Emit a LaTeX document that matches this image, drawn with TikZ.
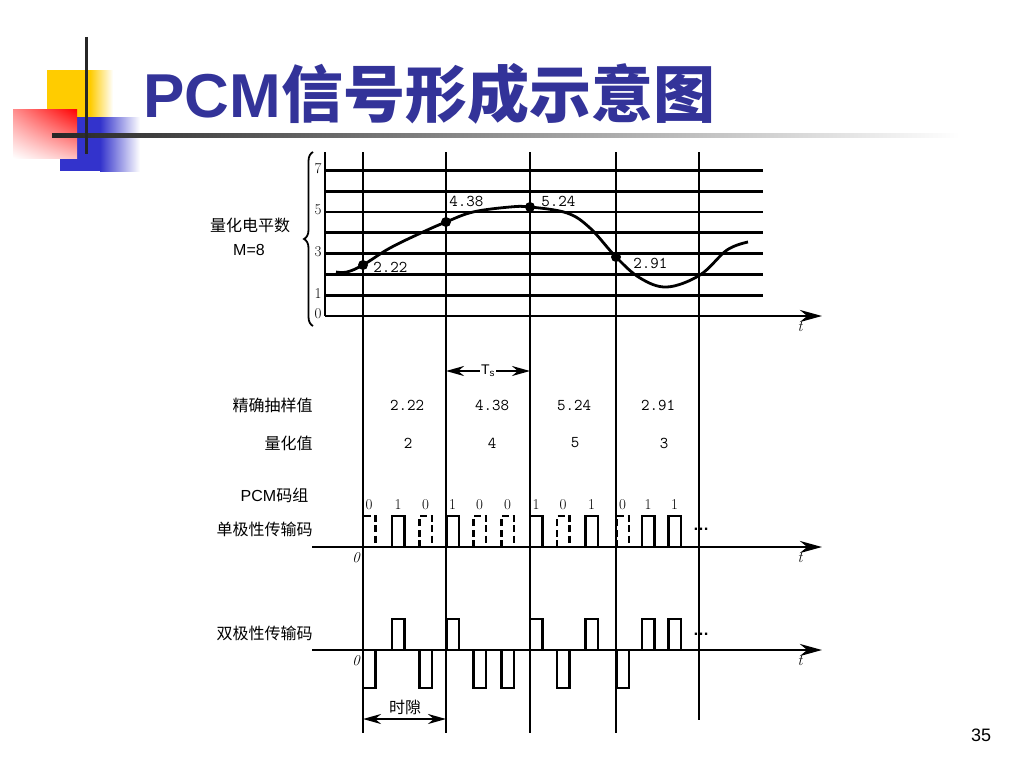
\documentclass[tikz,border=0pt]{standalone}
\usepackage{fontspec}
\usepackage{tikz}
\usetikzlibrary{arrows.meta,decorations.pathreplacing,shadings}
\newfontfamily\cjk{Noto Sans CJK SC}
\newfontfamily\arial{Liberation Sans}
\definecolor{titleblue}{HTML}{333399}
\definecolor{decoyellow}{HTML}{FFCC00}
\definecolor{decoblue}{HTML}{3333CC}

\begin{document}
\begin{tikzpicture}[x=1pt, y=-1pt, line width=2.8pt, line join=miter,
    cn/.style={font=\cjk\fontsize{16}{18}\selectfont, inner sep=1pt},
    num/.style={font=\ttfamily\fontsize{16.5}{18}\selectfont, inner sep=0pt},
    bitlbl/.style={font=\fontsize{15}{17}\selectfont, inner sep=0pt},
    lvl/.style={font=\fontsize{15}{17}\selectfont, inner sep=0pt},
    tlbl/.style={font=\itshape\fontsize{15}{17}\selectfont, inner sep=0pt},
    axisarrow/.style={-{Stealth[length=22pt,width=12pt]}},
    dblarrow/.style={line width=2.2pt, {Stealth[length=18pt,width=10pt]}-{Stealth[length=18pt,width=10pt]}},
    zerobit/.style={line width=2.4pt, dash pattern=on 7pt off 3.5pt}]
  \useasboundingbox (0,0) rectangle (1024,768);

  % corner decoration
  \fill[decoyellow] (47,70) rectangle (90,117);
  \shade[left color=decoyellow, right color=white] (90,70) rectangle (113,117);
  \fill[decoblue] (60,117) rectangle (100,171);
  \shade[left color=decoblue, right color=white] (100,117) rectangle (140,171);
  \shade[upper right=red, upper left=red!45, lower right=red!25, lower left=white] (13,109) rectangle (77,158);
  \shade[left color=black!85, right color=white] (52,133.5) rectangle (960,137);
  \draw[line width=3pt, black!85] (86,37) -- (86,154);

  \node[anchor=base west, inner sep=0pt, text=titleblue] (title) at (142,117)
    {\fontsize{62}{70}\selectfont\arial\bfseries PCM\cjk\bfseries 信号形成示意图};

  % quantisation levels
  \foreach \k in {1,...,7}
    \draw (325,{316-20.8*\k}) -- (763,{316-20.8*\k});
  \draw[axisarrow] (325,316) -- (822,316);
  \draw (325,152) -- (325,316);
  \foreach \v in {0,1,3,5,7}
    \node[lvl] (lv\v) at (318,{314-20.8*\v}) {\v};
  \node[tlbl] (t1) at (800,327) {t};
  \draw[line width=1.8pt, decorate, decoration={brace, amplitude=9pt}] (313,326) -- (313,152);
  \node[cn] (mlbl) at (250,225) {量化电平数};
  \node[font=\arial\fontsize{16}{18}\selectfont] (mval) at (249,250) {M=8};

  % signal and samples
  \draw plot[smooth, tension=0.6] coordinates {(336,272) (347,272) (363,265) (390,248) (423,232)
    (446,222) (473,212) (510,207) (530,207) (567,213) (590,228) (616,257) (640,278) (667,287)
    (700,275) (727,250) (748,242)};
  \foreach \x/\y in {363/265, 446/222, 530/207, 616/257}
    \fill (\x,\y) circle[radius=5];
  \node[num, anchor=west] (s1) at (372,267) {2.22};
  \node[num, anchor=west] (s2) at (448,201) {4.38};
  \node[num, anchor=west] (s3) at (540,201) {5.24};
  \node[num, anchor=west] (s4) at (632,263) {2.91};

  % sampling instants
  \foreach \x in {363,446,530,616}
    \draw (\x,152) -- (\x,733);
  \draw (699,152) -- (699,720);
  \draw[dblarrow] (446,371) -- (530,371)
    node[midway, fill=white, inner sep=1pt, font=\arial\fontsize{14}{16}\selectfont] (ts) {T\textsubscript{s}};

  % sample and quantised values
  \node[cn, anchor=east] (exact) at (315,405) {精确抽样值};
  \node[cn, anchor=east] (quant) at (315,443) {量化值};
  \foreach \x/\a [count=\i] in {407/2.22, 492/4.38, 574/5.24, 658/2.91}
    \node[num] (ex\i) at (\x,405) {\a};
  \foreach \x/\q [count=\i] in {408/2, 492/4, 575/5, 664/3}
    \node[num] (qv\i) at (\x,443) {\q};

  % codes
  \node[font=\cjk\fontsize{16}{18}\selectfont, anchor=east] (pcm) at (313,495) {{\arial PCM}码组};
  \node[cn, anchor=east] (uni) at (315,529) {单极性传输码};
  \node[cn, anchor=east] (bip) at (315,633) {双极性传输码};
  \draw[axisarrow] (312,547) -- (822,547);
  \draw[axisarrow] (312,650) -- (822,650);
  \node[tlbl] (o1) at (356,558) {0};
  \node[tlbl] (t2) at (800,558) {t};
  \node[tlbl] (o2) at (356,661) {0};
  \node[tlbl] (t3) at (800,661) {t};
  \node[font=\arial\bfseries\fontsize{16}{18}\selectfont, anchor=base] (dots1) at (701,530) {…};
  \node[font=\arial\bfseries\fontsize{16}{18}\selectfont, anchor=base] (dots2) at (701,635) {…};
  \foreach \x/\v [count=\i] in {363/0, 392/1, 419.5/0, 446.5/1, 473.5/0, 501.5/0,
      530/1, 557/0, 585.5/1, 616.5/0, 642/1, 668.5/1}{
    \node[bitlbl] (bit\i) at ({\x+6},505) {\v};
    \ifnum\v=1
      \draw (\x,547) |- ({\x+12.5},516) -- ({\x+12.5},547);
      \draw (\x,650) |- ({\x+12.5},619) -- ({\x+12.5},650);
    \else
      \draw[zerobit] (\x,547) |- ({\x+12.5},516) -- ({\x+12.5},547);
      \draw (\x,650) |- ({\x+12.5},688) -- ({\x+12.5},650);
    \fi
  }

  \draw[dblarrow] (363,719) -- (446,719);
  \node[cn] (slot) at (405,707) {时隙};
  \node[font=\arial\fontsize{18}{20}\selectfont] (pgnum) at (981,735) {35};
\end{tikzpicture}
\end{document}
